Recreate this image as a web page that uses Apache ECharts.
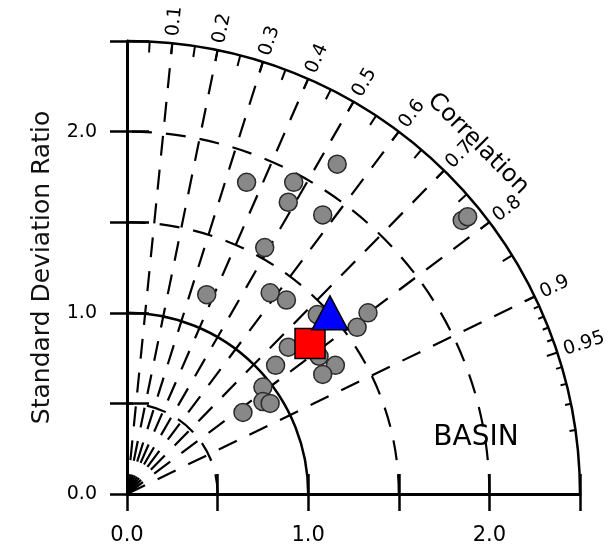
<!DOCTYPE html>
<html>
<head>
<meta charset="utf-8">
<script src="https://cdn.jsdelivr.net/npm/echarts@6/dist/echarts.min.js"></script>
<style>
html,body{margin:0;padding:0;background:#fff;}
#taylor{width:608px;height:548px;}
</style>
</head>
<body>
<div id="taylor"></div>
<script>
// model points (x = sd*corr, y = sd*sqrt(1-corr^2))
var modelX = [0.66, 0.92, 0.89, 1.16, 1.08, 1.85, 1.88, 0.76, 0.44, 0.79, 0.88, 1.05, 1.33, 1.27, 0.89, 1.06, 0.82, 1.15, 1.08, 0.75, 0.75, 0.79, 0.64];
var modelY = [1.72, 1.72, 1.61, 1.82, 1.54, 1.51, 1.53, 1.36, 1.10, 1.11, 1.07, 0.99, 1.00, 0.92, 0.81, 0.76, 0.71, 0.71, 0.66, 0.59, 0.51, 0.50, 0.45];
var squarePt = [1.01, 0.83];
var trianglePt = [1.12, 1.00];

// diagram frame
var corrLines = [0.1, 0.2, 0.3, 0.4, 0.5, 0.6, 0.7, 0.8, 0.9];
var corrLabelValues = [0.1, 0.2, 0.3, 0.4, 0.5, 0.6, 0.7, 0.8, 0.9, 0.95];
var corrLabels = ['0.1', '0.2', '0.3', '0.4', '0.5', '0.6', '0.7', '0.8', '0.9', '0.95'];
var corrTicksMajor = [0.05, 0.1, 0.15, 0.2, 0.25, 0.3, 0.35, 0.4, 0.45, 0.5, 0.55, 0.6, 0.65, 0.7, 0.75, 0.8, 0.85, 0.9, 0.95];
var corrTicksMinor = [0.91, 0.92, 0.93, 0.94, 0.96, 0.97, 0.98, 0.99];
var dashedArcs = [0.5, 1.5, 2.0];
var solidArcs = [1.0, 2.5];
var axisTicks = [0, 0.5, 1, 1.5, 2, 2.5];
var axisTickLabels = ['0.0', '', '1.0', '', '2.0', ''];

var RMAX = 2.5;
var FONT = 'DejaVu Sans';

function tickLabel(v){
	var i = axisTicks.indexOf(Math.round(v * 10) / 10);
	return i < 0 ? '' : axisTickLabels[i];
}

function radialLine(params, api){
	var th = Math.acos(api.value(0));
	var p0 = api.coord([0, 0]);
	var p1 = api.coord([RMAX * Math.cos(th), RMAX * Math.sin(th)]);
	return {
		type: 'line',
		shape: {x1: p0[0], y1: p0[1], x2: p1[0], y2: p1[1]},
		style: {stroke: '#000', lineWidth: 2.2, lineDash: [20, 14]}
	};
}

function arcItem(dashed, width){
	return function(params, api){
		var r = api.value(0);
		var c = api.coord([0, 0]);
		var pr = api.size([r, r])[0];
		return {
			type: 'arc',
			shape: {cx: c[0], cy: c[1], r: pr, startAngle: 0, endAngle: -Math.PI / 2, clockwise: false},
			style: {stroke: '#000', fill: 'none', lineWidth: width, lineDash: dashed ? [20, 14] : null}
		};
	};
}

function corrTick(len){
	return function(params, api){
		var th = Math.acos(api.value(0));
		var p = api.coord([RMAX * Math.cos(th), RMAX * Math.sin(th)]);
		return {
			type: 'line',
			shape: {x1: p[0], y1: p[1], x2: p[0] - len * Math.cos(th), y2: p[1] + len * Math.sin(th)},
			style: {stroke: '#000', lineWidth: 2}
		};
	};
}

function corrLabel(params, api){
	var th = Math.acos(api.value(0));
	var p = api.coord([RMAX * Math.cos(th), RMAX * Math.sin(th)]);
	return {
		type: 'text',
		x: p[0] + 7 * Math.cos(th),
		y: p[1] - 7 * Math.sin(th),
		rotation: th,
		style: {
			text: corrLabels[params.dataIndex],
			fill: '#000',
			fontSize: 19,
			fontFamily: FONT,
			align: 'left',
			verticalAlign: 'middle'
		}
	};
}

function col(arr){
	return arr.map(function(v){ return [v]; });
}

var chart = echarts.init(document.getElementById('taylor'));
chart.setOption({
	animation: false,
	backgroundColor: '#fff',
	grid: {left: 127, top: 41, width: 453, height: 453, outerBoundsMode: 'none'},
	xAxis: [{
		type: 'value', min: 0, max: 2.5, interval: 0.5,
		axisLine: {show: true, onZero: false, lineStyle: {color: '#000', width: 3}},
		axisTick: {show: true, inside: false, length: 17, lineStyle: {color: '#000', width: 2.5}},
		axisLabel: {show: true, margin: 31, formatter: tickLabel, color: '#000', fontSize: 21, fontFamily: FONT},
		splitLine: {show: false}
	}, {
		type: 'value', min: 0, max: 2.5, interval: 0.5, position: 'bottom',
		axisLine: {show: false},
		axisTick: {show: true, inside: true, length: 20, lineStyle: {color: '#000', width: 2.5}},
		axisLabel: {show: false},
		splitLine: {show: false}
	}],
	yAxis: [{
		type: 'value', min: 0, max: 2.5, interval: 0.5,
		name: 'Standard Deviation Ratio', nameLocation: 'middle', nameGap: 72,
		nameTextStyle: {color: '#111', fontSize: 25, fontFamily: FONT},
		axisLine: {show: true, onZero: false, lineStyle: {color: '#000', width: 3}},
		axisTick: {show: true, inside: false, length: 17, lineStyle: {color: '#000', width: 2.5}},
		axisLabel: {show: true, margin: 30, formatter: tickLabel, color: '#000', fontSize: 19, fontFamily: FONT},
		splitLine: {show: false}
	}, {
		type: 'value', min: 0, max: 2.5, interval: 0.5, position: 'left',
		axisLine: {show: false},
		axisTick: {show: true, inside: true, length: 22, lineStyle: {color: '#000', width: 2.5}},
		axisLabel: {show: false},
		splitLine: {show: false}
	}],
	graphic: [{
		type: 'text', x: 478, y: 144, rotation: -Math.PI / 4,
		style: {text: 'Correlation', fill: '#000', fontSize: 24, fontFamily: FONT, align: 'center', verticalAlign: 'middle'}
	}, {
		type: 'text', x: 476, y: 438,
		style: {text: 'BASIN', fill: '#000', fontSize: 28, fontFamily: FONT, align: 'center', verticalAlign: 'middle'}
	}],
	series: [
		{type: 'custom', renderItem: radialLine, data: col(corrLines), silent: true, z: 1},
		{type: 'custom', renderItem: arcItem(true, 2.2), data: col(dashedArcs), silent: true, z: 1},
		{type: 'custom', renderItem: arcItem(false, 2.5), data: col(solidArcs), silent: true, z: 2},
		{type: 'custom', renderItem: corrTick(11), data: col(corrTicksMajor), silent: true, z: 2},
		{type: 'custom', renderItem: corrTick(6), data: col(corrTicksMinor), silent: true, z: 2},
		{type: 'custom', renderItem: corrLabel, data: col(corrLabelValues), silent: true, z: 2},
		{
			type: 'scatter', z: 5,
			data: modelX.map(function(x, i){ return [x, modelY[i]]; }),
			symbol: 'circle', symbolSize: 18,
			itemStyle: {color: '#888888', borderColor: '#2a2a2a', borderWidth: 1.5, opacity: 1}
		},
		{
			type: 'scatter', z: 6, data: [squarePt],
			symbol: 'rect', symbolSize: 30,
			itemStyle: {color: '#ff0000', borderColor: '#000', borderWidth: 1.5, opacity: 1}
		},
		{
			type: 'scatter', z: 7, data: [trianglePt],
			symbol: 'triangle', symbolSize: [36, 34],
			itemStyle: {color: '#0000ff', borderColor: '#000', borderWidth: 1.5, opacity: 1}
		}
	]
});
</script>
</body>
</html>
